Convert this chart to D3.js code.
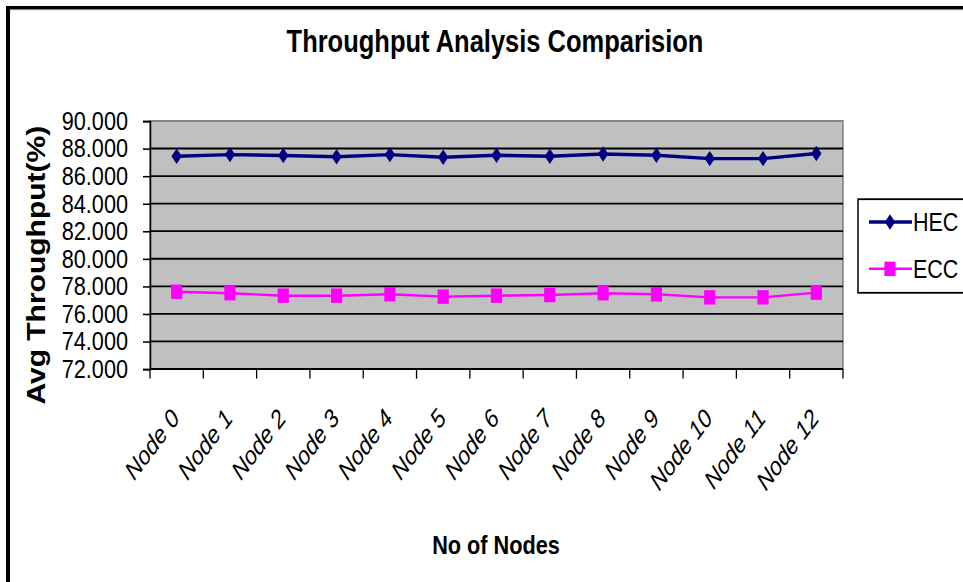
<!DOCTYPE html>
<html>
<head>
<meta charset="utf-8">
<script src="https://cdn.jsdelivr.net/npm/d3@7"></script>
<style>
  html, body { margin: 0; padding: 0; background: #fff; }
  svg { display: block; font-family: "Liberation Sans", Arial, sans-serif; }
</style>
</head>
<body>
<svg id="chart" width="963" height="582"></svg>
<script>
// Node labels along the x axis
const categories = ["Node 0", "Node 1", "Node 2", "Node 3", "Node 4", "Node 5", "Node 6",
                    "Node 7", "Node 8", "Node 9", "Node 10", "Node 11", "Node 12"];
// Average throughput (%) per node
const hecValues = [87.44, 87.56, 87.49, 87.40, 87.56, 87.37, 87.51, 87.44, 87.60, 87.51, 87.27, 87.27, 87.64];
const eccValues = [77.61, 77.50, 77.32, 77.32, 77.42, 77.25, 77.32, 77.37, 77.50, 77.42, 77.20, 77.20, 77.54];
// y axis tick values
const yTickValues = [72, 74, 76, 78, 80, 82, 84, 86, 88, 90];

const series = [
  { name: "HEC", values: hecValues, color: "#000080", marker: "diamond", width: 2.8 },
  { name: "ECC", values: eccValues, color: "#ff00ff", marker: "square", width: 2 }
];

const svg = d3.select("#chart");

// page frame: heavy rule along the top and left edges
svg.append("rect").attr("x", 6).attr("y", 6).attr("width", 957).attr("height", 3).attr("fill", "#000");
svg.append("rect").attr("x", 6).attr("y", 9).attr("width", 957).attr("height", 1.2).attr("fill", "#888");
svg.append("rect").attr("x", 6).attr("y", 6).attr("width", 4).attr("height", 576).attr("fill", "#000");

// chart body is laid out in a box that is stretched 1.2x vertically
const SY = 1.2;
const g = svg.append("g").attr("transform", `scale(1,${SY})`);

const plot = { left: 150, right: 843, top: 100.8, bottom: 307.5 };

const x = d3.scaleBand().domain(categories).range([plot.left, plot.right]);
const y = d3.scaleLinear().domain([72, 90]).range([plot.bottom, plot.top]);

// plot area
g.append("rect")
  .attr("x", plot.left).attr("y", plot.top)
  .attr("width", plot.right - plot.left).attr("height", plot.bottom - plot.top)
  .attr("fill", "#c0c0c0").attr("stroke", "#808080").attr("stroke-width", 1.5);

// horizontal gridlines
g.append("g").selectAll("line")
  .data(yTickValues.filter(v => v > 72 && v < 90))
  .join("line")
  .attr("x1", plot.left).attr("x2", plot.right)
  .attr("y1", d => y(d)).attr("y2", d => y(d))
  .attr("stroke", "#000").attr("stroke-width", 1.5);

// y axis
const yAxis = g.append("g")
  .attr("transform", `translate(${plot.left},0)`)
  .call(d3.axisLeft(y).tickValues(yTickValues).tickFormat(d3.format(".3f")).tickSize(7).tickPadding(15));
yAxis.select(".domain").attr("stroke", "#000").attr("stroke-width", 1.5);
yAxis.selectAll(".tick line").attr("stroke", "#000").attr("stroke-width", 1.3);
yAxis.selectAll(".tick text")
  .attr("font-size", 21.7).attr("fill", "#000")
  .attr("font-family", "'Liberation Sans', Arial, sans-serif");

// x axis: baseline and tick marks on the category boundaries
const boundaries = categories.map(c => x(c)).concat([x.range()[1]]);
g.append("line")
  .attr("x1", plot.left).attr("x2", plot.right)
  .attr("y1", plot.bottom).attr("y2", plot.bottom)
  .attr("stroke", "#000").attr("stroke-width", 1.8);
g.append("g").selectAll("line")
  .data(boundaries)
  .join("line")
  .attr("x1", d => d).attr("x2", d => d)
  .attr("y1", plot.bottom).attr("y2", plot.bottom + 8)
  .attr("stroke", "#000").attr("stroke-width", 1.3);

// rotated, italic category labels
g.append("g").selectAll("text")
  .data(categories)
  .join("text")
  .attr("transform", d => `translate(${x(d) + x.bandwidth() / 2 + 4},${plot.bottom + 42}) rotate(-48)`)
  .attr("text-anchor", "end")
  .attr("font-size", 21.5)
  .attr("font-style", "italic")
  .attr("fill", "#000")
  .text(d => d);

// lines and markers
const cx = (d, i) => x(categories[i]) + x.bandwidth() / 2;
const line = d3.line().x(cx).y(d => y(d));

function markerPath(kind, px, py) {
  const p = d3.path();
  if (kind === "diamond") {
    p.moveTo(px, py - 6.4); p.lineTo(px + 5.2, py); p.lineTo(px, py + 6.4); p.lineTo(px - 5.2, py); p.closePath();
  } else {
    p.rect(px - 5.6, py - 6, 11.2, 12);
  }
  return p.toString();
}

series.forEach(s => {
  g.append("path")
    .datum(s.values)
    .attr("d", line)
    .attr("fill", "none")
    .attr("stroke", s.color)
    .attr("stroke-width", s.width);
  g.append("g").selectAll("path")
    .data(s.values)
    .join("path")
    .attr("d", (d, i) => markerPath(s.marker, cx(d, i), y(d)))
    .attr("fill", s.color);
});

// titles
g.append("text")
  .attr("x", 495).attr("y", 43)
  .attr("text-anchor", "middle")
  .attr("font-size", 25.5).attr("font-weight", "bold")
  .text("Throughput Analysis Comparision");

g.append("text")
  .attr("x", 496).attr("y", 462)
  .attr("text-anchor", "middle")
  .attr("font-size", 21.7).attr("font-weight", "bold")
  .text("No of Nodes");

g.append("text")
  .attr("transform", `translate(45,221) rotate(-90)`)
  .attr("text-anchor", "middle")
  .attr("font-size", 25).attr("font-weight", "bold")
  .text("Avg Throughput(%)");

// legend
const legend = g.append("g");
legend.append("rect")
  .attr("x", 858).attr("y", 166).attr("width", 120).attr("height", 78)
  .attr("fill", "#fff").attr("stroke", "#000").attr("stroke-width", 1.5);
const legendRows = [185, 224];
series.forEach((s, i) => {
  const ly = legendRows[i];
  legend.append("line")
    .attr("x1", 869).attr("x2", 912).attr("y1", ly).attr("y2", ly)
    .attr("stroke", s.color).attr("stroke-width", s.width);
  legend.append("path")
    .attr("d", markerPath(s.marker, 890, ly))
    .attr("fill", s.color);
  legend.append("text")
    .attr("x", 913).attr("y", ly + 7.8)
    .attr("font-size", 21.5)
    .text(s.name);
});
</script>
</body>
</html>
